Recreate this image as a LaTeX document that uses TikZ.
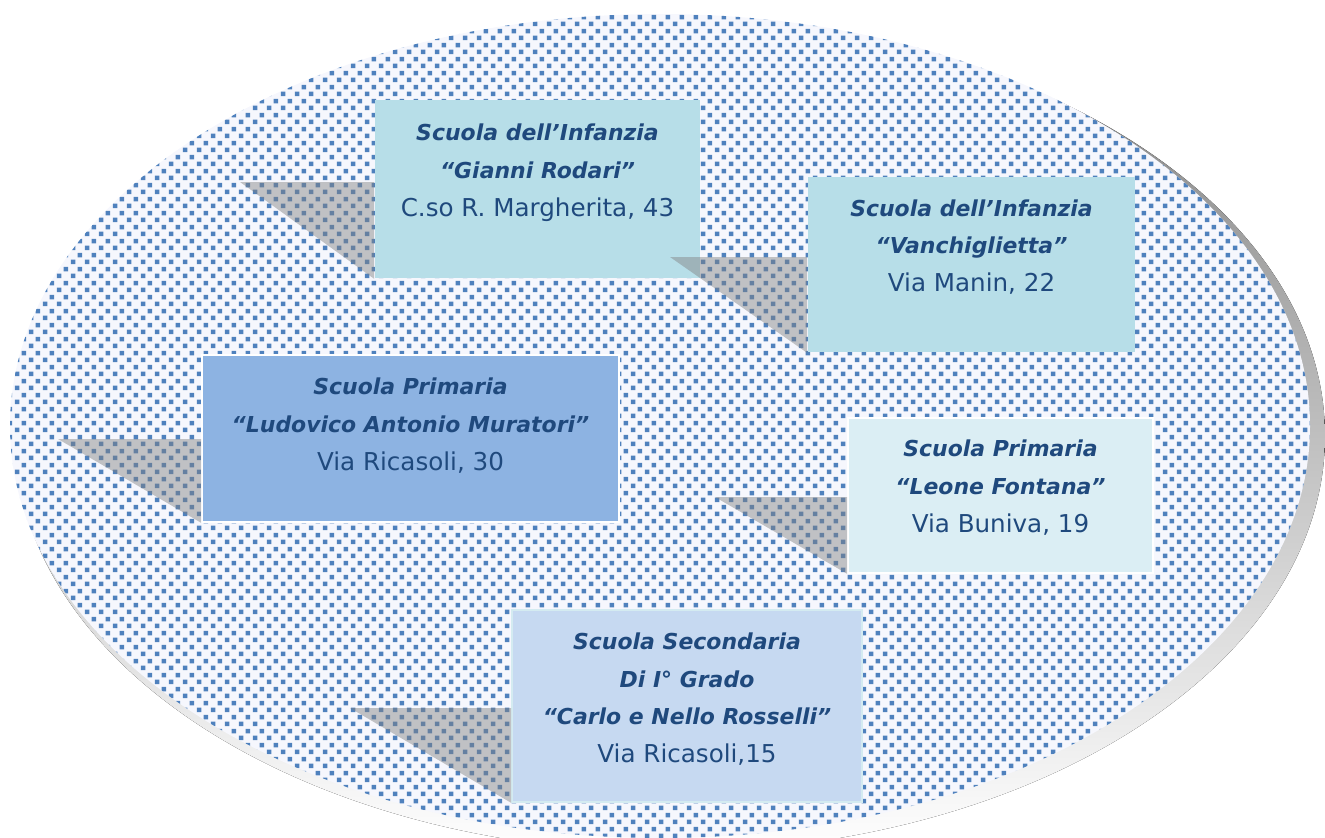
\documentclass[tikz,border=0pt]{standalone}
\usepackage{fontspec}
\setmainfont{DejaVu Sans}
\usetikzlibrary{patterns}

\definecolor{dotblue}{RGB}{79,129,189}
\definecolor{paleback}{RGB}{246,247,253}
\definecolor{shade}{RGB}{191,191,191}
\definecolor{inkblue}{RGB}{31,73,125}
\definecolor{infanzia}{RGB}{183,222,232}
\definecolor{primariaA}{RGB}{141,179,226}
\definecolor{primariaB}{RGB}{219,238,244}
\definecolor{secondaria}{RGB}{198,217,241}

\pgfdeclarepatternformonly{schooldots}{\pgfpointorigin}{\pgfqpoint{8pt}{8pt}}{\pgfqpoint{8pt}{8pt}}{%
\pgfpathrectangle{\pgfqpoint{0.6pt}{0.6pt}}{\pgfqpoint{2.7pt}{2.7pt}}%
\pgfpathrectangle{\pgfqpoint{4.6pt}{4.6pt}}{\pgfqpoint{2.7pt}{2.7pt}}%
\pgfusepath{fill}}

\newcommand{\scuola}[1]{{\fontsize{12.5}{21.5}\selectfont\textbf{\textit{#1}}}}

\begin{document}
\begin{tikzpicture}
[x=0.02cm,y=-0.02cm,
every node/.style={rectangle,align=center,text=inkblue,draw=white,line width=1pt,
  inner sep=0pt,font=\fontsize{14}{21.5}\selectfont},
callout/.style={fill=gray,fill opacity=0.45}]
\useasboundingbox (0,0) rectangle (1325,838);
% ellipse and its shadow
\fill[shade] (670,436) ellipse [x radius=655,y radius=416];
\fill[paleback] (660,426) ellipse [x radius=650,y radius=412];
\fill[pattern=schooldots,pattern color=dotblue] (660,426) ellipse [x radius=650,y radius=412];
% the schools
\node[fill=infanzia,draw=none,minimum width=6.5cm,minimum height=3.56cm] (rodari) at (537.5,189)
  {\scuola{Scuola dell’Infanzia}\\\scuola{“Gianni Rodari”}\\C.so R. Margherita, 43\\\mbox{}};
\node[fill=infanzia,draw=none,minimum width=6.54cm,minimum height=3.5cm] (vanchi) at (971.5,264.5)
  {\scuola{Scuola dell’Infanzia}\\\scuola{“Vanchiglietta”}\\Via Manin, 22\\\mbox{}};
\node[fill=primariaA,minimum width=8.34cm,minimum height=3.34cm] (muratori) at (410.5,438.5)
  {\scuola{Scuola Primaria}\\\scuola{“Ludovico Antonio Muratori”}\\Via Ricasoli, 30\\[-5pt]\mbox{}};
\node[fill=primariaB,minimum width=6.1cm,minimum height=3.1cm] (fontana) at (1000.5,495.5)
  {\scuola{Scuola Primaria}\\\scuola{“Leone Fontana”}\\Via Buniva, 19\\[-11pt]\mbox{}};
\node[fill=secondaria,draw=infanzia!60,minimum width=7cm,minimum height=3.84cm] (rosselli) at (687,706)
  {\scuola{Scuola Secondaria}\\\scuola{Di I° Grado}\\\scuola{“Carlo e Nello Rosselli”}\\Via Ricasoli,15\\[-12pt]\mbox{}};
% callout tips
\coordinate (rodari-tip) at (240,182);
\coordinate (vanchi-tip) at (670,257);
\coordinate (muratori-tip) at (58,439);
\coordinate (fontana-tip) at (715,497);
\coordinate (rosselli-tip) at (350,708);
\foreach \bx in {rodari,vanchi,muratori,fontana,rosselli}
\fill[callout] (\bx-tip) -- (\bx.west |- \bx-tip) -- (\bx.south west) -- cycle;
\end{tikzpicture}
\end{document}
